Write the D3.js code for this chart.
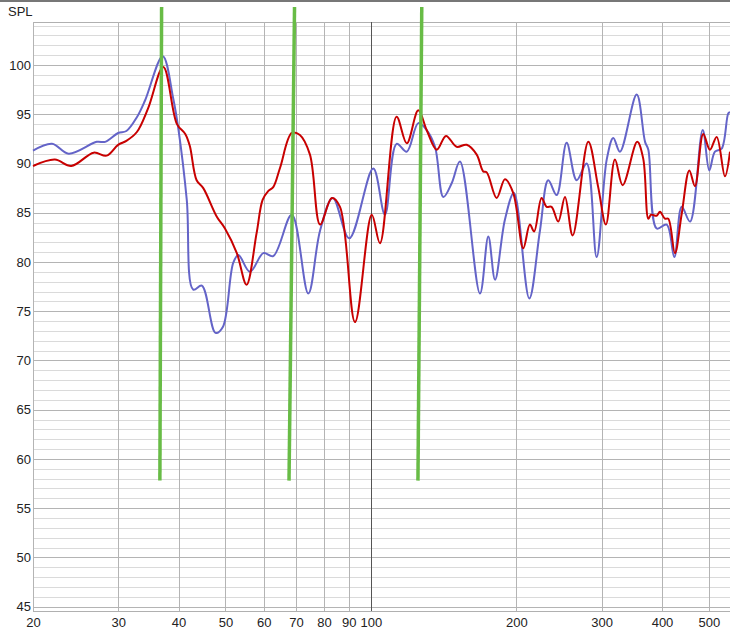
<!DOCTYPE html>
<html><head><meta charset="utf-8">
<script src="https://cdn.jsdelivr.net/npm/d3@7/dist/d3.min.js"></script>
<style>body{margin:0;background:#fff;}svg{display:block;font-family:"Liberation Sans",Arial,Helvetica,sans-serif;}</style>
</head><body>
<svg id="chart" width="730" height="640"></svg>
<script>
// ---- data ----
const blueFreq = [20.0,21.9,23.7,27.1,28.2,30.0,31.2,32.8,34.1,37.1,39.0,40.0,41.6,42.9,44.7,47.7,49.4,51.9,53.2,56.2,59.9,62.8,68.6,74.2,78.5,83.4,90.2,101.1,106.9,113.0,118.6,125.3,130.4,135.7,141.2,146.9,152.8,168.1,174.9,180.6,189.3,197.6,212.6,223.7,232.7,242.2,254.0,266.4,279.4,293.0,307.4,317.2,327.4,354.6,369.0,374.8,390.0,409.0,424.2,439.4,457.2,485.6,501.0,514.8,531.4,548.6,553];
const blueSPL  = [91.3,92.0,91.0,92.2,92.2,93.1,93.3,94.7,96.4,100.9,96.6,93.4,86.3,77.2,77.6,72.8,73.4,79.9,80.7,79.0,80.9,80.6,84.8,76.8,83.2,86.5,82.4,89.5,84.8,92.0,91.2,94.1,93.4,91.7,86.6,88.0,90.2,76.8,82.6,78.2,84.3,87.0,76.3,83.2,88.3,86.8,92.1,88.3,90.0,80.5,90.4,92.6,91.2,97.0,92.2,91.4,83.4,83.8,80.5,85.6,84.1,93.4,89.3,91.2,91.5,95.1,95.2];
const redFreq  = [20.0,22.2,24.0,26.7,28.4,30.0,31.2,32.8,34.6,37.2,39.7,41.3,42.2,43.6,45.0,48.0,49.9,52.8,55.3,58.0,59.7,61.3,62.8,64.9,68.6,71.3,74.8,78.5,83.0,86.3,92.7,100.4,104.4,113.0,118.6,125.3,130.4,136.8,143.0,150.4,157.8,165.5,170.7,173.6,182.0,189.3,197.0,206.6,213.2,217.6,225.4,230.9,236.4,244.0,252.0,261.4,281.6,295.2,306.2,319.7,331.6,355.5,365.8,374.8,379.6,390.0,396.2,405.6,412.2,425.4,439.4,455.6,468.0,486.8,502.6,519.0,539.8,553];
const redSPL   = [89.75,90.4,89.75,91.1,90.8,91.9,92.3,93.2,95.6,99.8,94.0,93.0,91.8,88.3,87.5,84.6,83.4,80.9,77.7,82.9,86.3,87.2,87.6,89.6,93.1,92.9,90.9,83.8,86.5,85.6,73.9,84.8,81.9,94.75,92.05,95.4,93.4,91.4,92.8,91.7,91.9,90.9,89.2,89.1,86.5,88.4,87.0,81.4,83.8,83.1,86.5,85.6,85.6,84.1,86.6,82.7,92.2,87.6,83.8,90.4,87.8,92.2,90.5,84.4,84.8,84.7,85.1,84.4,84.4,80.9,84.9,89.3,87.7,93.0,91.4,92.7,88.7,91.2];
// green marker lines: frequency at top / bottom
const markerTopFreq = [36.9, 69.5, 127.4];
const markerBottomFreq = [36.6, 67.7, 125.1];
const markerTopSPL = 105.9;
const markerBottomSPL = 57.8;
const xTicks = [20,30,40,50,60,70,80,90,100,200,300,400,500];
const yTicks = [45,50,55,60,65,70,75,80,85,90,95,100];
const yTitle = "SPL";

// ---- layout ----
const svg = d3.select("#chart");
const mLeft = 33, mRight = 730, mTop = 22, mBottom = 611;
const x = d3.scaleLog().domain([20, 553]).range([mLeft, mRight]);
const y = d3.scaleLinear().domain([44.56, 104.37]).range([mBottom, mTop]);

// top frame line
svg.append("line").attr("x1",0).attr("x2",730).attr("y1",1).attr("y2",1)
  .attr("stroke","#777").attr("stroke-width",2);

// minor horizontal grid (1 dB)
const minor = d3.range(45, 105, 1).filter(v => v % 5 !== 0);
svg.append("g").selectAll("line").data(minor).join("line")
  .attr("x1",mLeft).attr("x2",mRight)
  .attr("y1",d=>Math.round(y(d))+0.5).attr("y2",d=>Math.round(y(d))+0.5)
  .attr("stroke","#dadada").attr("stroke-width",1);
// major horizontal grid
svg.append("g").selectAll("line").data(yTicks).join("line")
  .attr("x1",mLeft).attr("x2",mRight)
  .attr("y1",d=>Math.round(y(d))+0.5).attr("y2",d=>Math.round(y(d))+0.5)
  .attr("stroke","#b4b4b4").attr("stroke-width",1);
// top & bottom frame of plot
[mTop, mBottom].forEach(v=>{
  svg.append("line").attr("x1",mLeft).attr("x2",mRight).attr("y1",v+0.5).attr("y2",v+0.5)
    .attr("stroke","#b0b0b0").attr("stroke-width",1);
});
// vertical grid
svg.append("g").selectAll("line").data(xTicks).join("line")
  .attr("x1",d=>Math.round(x(d))+0.5).attr("x2",d=>Math.round(x(d))+0.5)
  .attr("y1",mTop).attr("y2",mBottom)
  .attr("stroke",d=>d===100?"#555":"#b4b4b4").attr("stroke-width",1);

// axes labels via d3 axes
const yAxis = d3.axisLeft(y).tickValues(yTicks).tickSize(0).tickPadding(0);
svg.append("g").attr("transform",`translate(${mLeft-2},0)`).call(yAxis)
  .call(g=>g.select(".domain").remove())
  .selectAll("text").attr("font-size",13).attr("fill","#222")
  .attr("font-family",'"Liberation Sans",Arial,sans-serif');
const xAxis = d3.axisBottom(x).tickValues(xTicks).tickFormat(d3.format("d")).tickSize(0).tickPadding(0);
svg.append("g").attr("transform",`translate(0,${mBottom+7})`).call(xAxis)
  .call(g=>g.select(".domain").remove())
  .selectAll("text").attr("font-size",13).attr("fill","#222")
  .attr("font-family",'"Liberation Sans",Arial,sans-serif');

svg.append("text").attr("x",8).attr("y",16).attr("font-size",13).attr("fill","#222").text(yTitle);

// curves
const line = d3.line().x(d=>x(d[0])).y(d=>y(d[1])).curve(d3.curveCatmullRom.alpha(0.5));
svg.append("path").datum(blueFreq.map((f,i)=>[f,blueSPL[i]]))
  .attr("d",line).attr("fill","none").attr("stroke","#6464c8").attr("stroke-width",2);
svg.append("path").datum(redFreq.map((f,i)=>[f,redSPL[i]]))
  .attr("d",line).attr("fill","none").attr("stroke","#c80000").attr("stroke-width",2);

// green markers
svg.append("g").selectAll("line").data(markerTopFreq).join("line")
  .attr("x1",d=>x(d)).attr("y1",y(markerTopSPL))
  .attr("x2",(d,i)=>x(markerBottomFreq[i])).attr("y2",y(markerBottomSPL))
  .attr("stroke","#68bc46").attr("stroke-width",3.5);
</script>
</body></html>
